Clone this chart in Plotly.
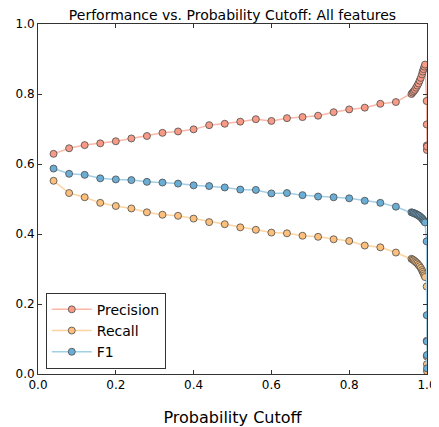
import plotly.graph_objects as go

cutoff = [0.04, 0.08, 0.12, 0.16, 0.20, 0.24, 0.28, 0.32, 0.36, 0.40, 0.44, 0.48,
          0.52, 0.56, 0.60, 0.64, 0.68, 0.72, 0.76, 0.80, 0.84, 0.88, 0.92,
          0.960, 0.963, 0.966, 0.969, 0.972, 0.975, 0.978, 0.981, 0.984, 0.987,
          0.989, 0.991, 0.993, 0.995,
          0.9990, 0.9993, 0.9995, 0.9997, 0.9999]

precision = [0.629, 0.645, 0.654, 0.659, 0.665, 0.673, 0.680, 0.689, 0.693, 0.699, 0.711, 0.715,
             0.721, 0.728, 0.723, 0.731, 0.734, 0.738, 0.748, 0.756, 0.761, 0.772, 0.777,
             0.800, 0.804, 0.808, 0.812, 0.818, 0.824, 0.830, 0.838, 0.846, 0.856,
             0.864, 0.871, 0.878, 0.884,
             0.780, 0.713, 0.653, 0.640, 0.650]

recall = [0.552, 0.517, 0.505, 0.489, 0.480, 0.473, 0.462, 0.455, 0.452, 0.444, 0.434, 0.428,
          0.419, 0.412, 0.404, 0.402, 0.395, 0.392, 0.385, 0.380, 0.367, 0.362, 0.347,
          0.329, 0.327, 0.325, 0.322, 0.319, 0.316, 0.312, 0.308, 0.303, 0.297,
          0.292, 0.287, 0.282, 0.277,
          0.250, 0.095, 0.050, 0.028, 0.008]

f1 = [0.587, 0.572, 0.569, 0.559, 0.556, 0.554, 0.549, 0.547, 0.544, 0.539, 0.537, 0.533,
      0.527, 0.526, 0.516, 0.517, 0.511, 0.507, 0.505, 0.502, 0.495, 0.489, 0.478,
      0.462, 0.461, 0.460, 0.458, 0.457, 0.455, 0.453, 0.451, 0.448, 0.445,
      0.442, 0.439, 0.436, 0.433,
      0.379, 0.168, 0.093, 0.054, 0.016]

series = [
    ("Precision", precision, "#f89b86", "#fbb7a8"),
    ("Recall", recall, "#fdc07c", "#fdd3a0"),
    ("F1", f1, "#6aaed6", "#a3cfe6"),
]

fig = go.Figure()
for name, vals, fill, line in series:
    fig.add_trace(go.Scatter(
        x=cutoff, y=vals, name=name, mode="lines+markers",
        line=dict(color=line, width=1.5),
        marker=dict(size=7, color=fill, line=dict(color="#4a4a4a", width=0.8)),
    ))

axis_common = dict(
    showline=True, linecolor="#333333", linewidth=1, mirror="ticks",
    ticks="inside", ticklen=4, tickcolor="#333333", showgrid=False, zeroline=False,
    automargin=False,
    tickfont=dict(family="DejaVu Sans", size=12, color="#000000"),
)

# page body has an 8px margin, so the figure is 8px smaller and margins shifted
fig.update_layout(
    width=431, height=419,
    margin=dict(l=30, r=12, t=16, b=53, autoexpand=False),
    paper_bgcolor="white", plot_bgcolor="white",
    title=dict(text="Performance vs. Probability Cutoff: All features",
               x=0.5, xanchor="center", xref="paper", y=0.995, yanchor="top",
               automargin=False,
               font=dict(family="DejaVu Sans", size=14, color="#000000")),
    xaxis=dict(range=[0, 1], tickvals=[0, 0.2, 0.4, 0.6, 0.8, 1.0],
               ticktext=["0.0", "0.2", "0.4", "0.6", "0.8", "1.0"],
               title=dict(text="Probability Cutoff", standoff=20,
                          font=dict(family="DejaVu Sans", size=16, color="#000000")),
               **axis_common),
    yaxis=dict(range=[0, 1], tickvals=[0, 0.2, 0.4, 0.6, 0.8, 1.0],
               ticktext=["0.0", "0.2", "0.4", "0.6", "0.8", "1.0"],
               **axis_common),
    legend=dict(x=0.02, y=0.015, xanchor="left", yanchor="bottom",
                bordercolor="#333333", borderwidth=1, bgcolor="white",
                font=dict(family="DejaVu Sans", size=14, color="#000000"),
                itemwidth=40, tracegroupgap=1),
    showlegend=True,
)

fig.write_html("out.html")
